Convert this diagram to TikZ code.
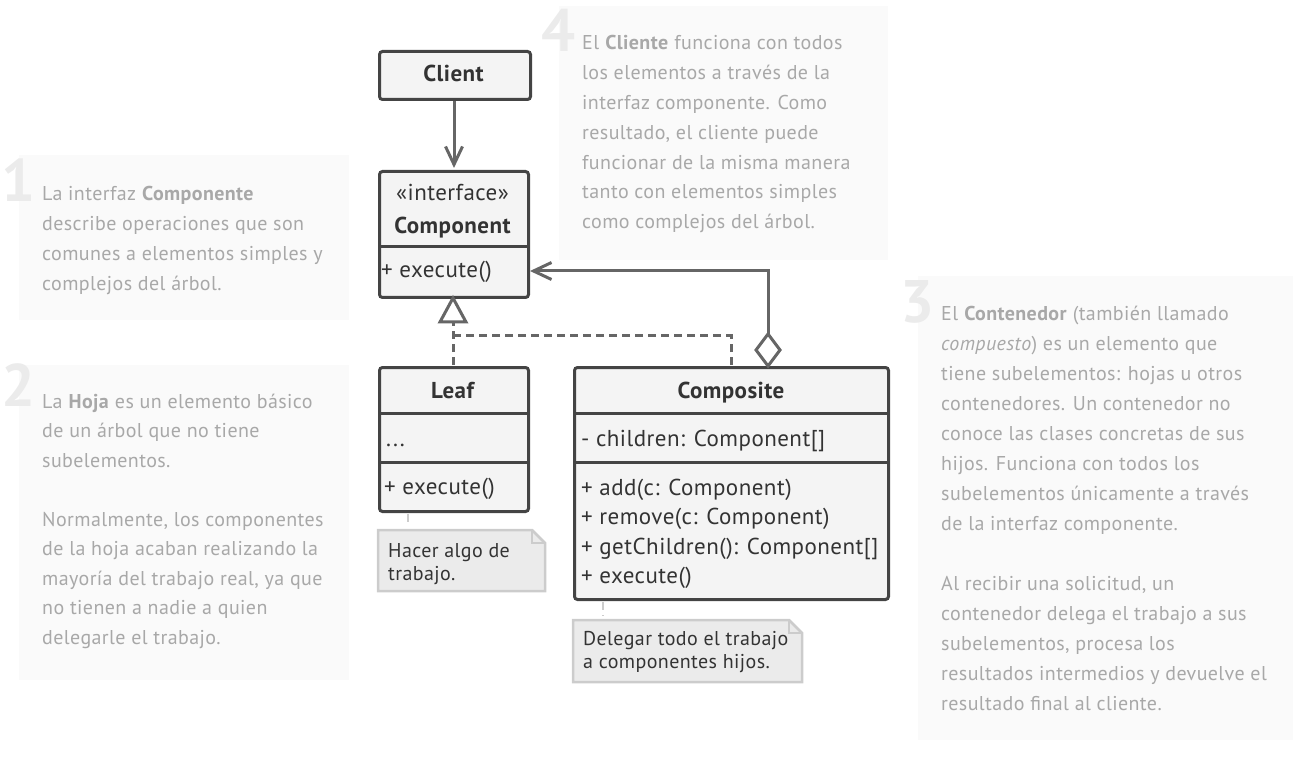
\documentclass[tikz,border=0pt]{standalone}
\usepackage{fontspec}
\setmainfont{PT Sans}[LetterSpace=2.0]
\usetikzlibrary{arrows.meta}
\definecolor{umlline}{HTML}{444444}
\definecolor{conn}{HTML}{666666}
\definecolor{umlfill}{HTML}{F4F4F4}
\definecolor{notefill}{HTML}{EBEBEB}
\definecolor{noteline}{HTML}{CCCCCC}
\definecolor{descbg}{HTML}{FAFAFA}
\definecolor{desctext}{HTML}{A8A8A8}
\definecolor{numcol}{HTML}{EBEBEB}
\definecolor{umltext}{HTML}{333333}
\begin{document}
\begin{tikzpicture}[x=1pt,y=-1pt,
  descbox/.style={fill=descbg, draw=none, anchor=north west, inner sep=0pt},
  desc/.style={font=\fontsize{20}{29.8}\selectfont, text=desctext, align=left, inner sep=0pt, anchor=base west},
  bignum/.style={font=\fontsize{60}{60}\selectfont\bfseries, text=numcol, inner sep=0pt, anchor=base east},
  umlbox/.style={draw=umlline, fill=umlfill, line width=3pt, rounded corners=3pt, anchor=north west, inner sep=0pt},
  umltxt/.style={font=\fontsize{23}{26}\selectfont, text=umltext, inner sep=0pt},
  umlbold/.style={umltxt, font=\fontsize{23}{26}\selectfont\bfseries},
  divider/.style={draw=umlline, line width=3pt},
  connector/.style={draw=conn, line width=3pt},
  openarrow/.style={-{Straight Barb[length=18pt,width=17pt,line width=3pt]}},
  dashline/.style={connector, dash pattern=on 8pt off 5pt},
  notefillstyle/.style={fill=notefill, draw=noteline, line width=2.5pt},
  notetxt/.style={font=\fontsize{20}{23}\selectfont, text=umltext, align=left, inner sep=0pt, anchor=base west},
  noteconn/.style={draw=noteline, line width=2.5pt, dash pattern=on 8pt off 5pt}
]
\useasboundingbox (0,0) rectangle (1311,775);

% description boxes
\node[descbox, minimum width=330pt, minimum height=165pt] (d1) at (19,155) {};
\node[descbox, minimum width=330pt, minimum height=315pt] (d2) at (19,365) {};
\node[descbox, minimum width=375pt, minimum height=464pt] (d3) at (918,276) {};
\node[descbox, minimum width=329pt, minimum height=254pt] (d4) at (559,6) {};

\node[bignum] (n1) at (36,202) {1};
\node[bignum] (n2) at (36,406) {2};
\node[bignum] (n3) at (935,323) {3};
\node[bignum] (n4) at (576,52) {4};

% anchors at the baseline of the LAST line
\node[desc] (t1) at (42,290.4) {La interfaz \textbf{Componente}\\describe operaciones que son\\comunes a elementos simples y\\complejos del árbol.};
\node[desc, font=\fontsize{20}{29.5}\selectfont] (t2) at (42,644) {La \textbf{Hoja} es un elemento básico\\de un árbol que no tiene\\subelementos.\\[29.5pt]Normalmente, los componentes\\de la hoja acaban realizando la\\mayoría del trabajo real, ya que\\no tienen a nadie a quien\\delegarle el trabajo.};
\node[desc, font=\fontsize{20}{30}\selectfont] (t3) at (941,710) {El \textbf{Contenedor} (también llamado\\\textit{compuesto}) es un elemento que\\tiene subelementos: hojas u otros\\contenedores. Un contenedor no\\conoce las clases concretas de sus\\hijos. Funciona con todos los\\subelementos únicamente a través\\de la interfaz componente.\\[30pt]Al recibir una solicitud, un\\contenedor delega el trabajo a sus\\subelementos, procesa los\\resultados intermedios y devuelve el\\resultado final al cliente.};
\node[desc] (t4) at (582,228.8) {El \textbf{Cliente} funciona con todos\\los elementos a través de la\\interfaz componente. Como\\resultado, el cliente puede\\funcionar de la misma manera\\tanto con elementos simples\\como complejos del árbol.};

% UML boxes
\node[umlbox, minimum width=151pt, minimum height=48pt] (client) at (378,50) {};
\node[umlbold, anchor=base] (clientT) at (453.5,82) {Client};

\node[umlbox, minimum width=149pt, minimum height=126pt] (comp) at (378,170) {};
\draw[divider] (378,247) -- (527,247);
\node[umltxt, anchor=base] (compS) at (452.5,201) {«interface»};
\node[umlbold, anchor=base] (compN) at (452.5,234) {Component};
\node[umltxt, anchor=base west] (compM) at (381,278) {+ execute()};

\node[umlbox, minimum width=149pt, minimum height=144pt] (leaf) at (378,366) {};
\draw[divider] (378,413) -- (527,413);
\draw[divider] (378,462) -- (527,462);
\node[umlbold, anchor=base] (leafN) at (452.5,398) {Leaf};
\node[umltxt, anchor=base west] (leafA) at (386,446) {...};
\node[umltxt, anchor=base west] (leafM) at (384,494) {+ execute()};

\node[umlbox, minimum width=314pt, minimum height=232pt] (compo) at (573,366) {};
\draw[divider] (573,413) -- (887,413);
\draw[divider] (573,462) -- (887,462);
\node[umlbold, anchor=base] (compoN) at (731,398) {Composite};
\node[umltxt, anchor=base west] (compoA) at (581,446) {- children: Component[]};
\node[umltxt, anchor=base west] (compoM1) at (581,495) {+ add(c: Component)};
\node[umltxt, anchor=base west] (compoM2) at (581,524.5) {+ remove(c: Component)};
\node[umltxt, anchor=base west] (compoM3) at (581,554) {+ getChildren(): Component[]};
\node[umltxt, anchor=base west] (compoM4) at (581,583.5) {+ execute()};

% connectors
\draw[connector, openarrow] (client.south -| 454,0) -- (454,168);
\coordinate (aggTop) at (768,334);
\coordinate (aggCorner) at (768,271);
\draw[connector, openarrow] (aggTop) -- (aggCorner) -- (530,271);
\draw[connector, fill=white, line join=miter] (768,366) -- (780,350) -- (768,334) -- (756,350) -- cycle;

\coordinate (realTip) at (453,298);
\draw[dashline] (453,365) -- (453,322);
\draw[dashline] (731,365) -- (731,336) -- (453,336);
\draw[connector, fill=white, line join=miter] (realTip) -- (466,322) -- (440,322) -- cycle;

% notes
\filldraw[notefillstyle, line join=miter] (378,530) -- (532,530) -- (545,543) -- (545,591) -- (378,591) -- cycle;
\draw[draw=noteline, line width=2.5pt] (532,530) -- (532,543) -- (545,543);
\node[notetxt] (note1) at (388,580) {Hacer algo de\\trabajo.};
\draw[noteconn] (408,514) -- (408,524);

\filldraw[notefillstyle, line join=miter] (573,620) -- (789,620) -- (802,633) -- (802,682) -- (573,682) -- cycle;
\draw[draw=noteline, line width=2.5pt] (789,620) -- (789,633) -- (802,633);
\node[notetxt] (note2) at (583,668) {Delegar todo el trabajo\\a componentes hijos.};
\draw[noteconn] (603,602) -- (603,616);
\end{tikzpicture}
\end{document}
